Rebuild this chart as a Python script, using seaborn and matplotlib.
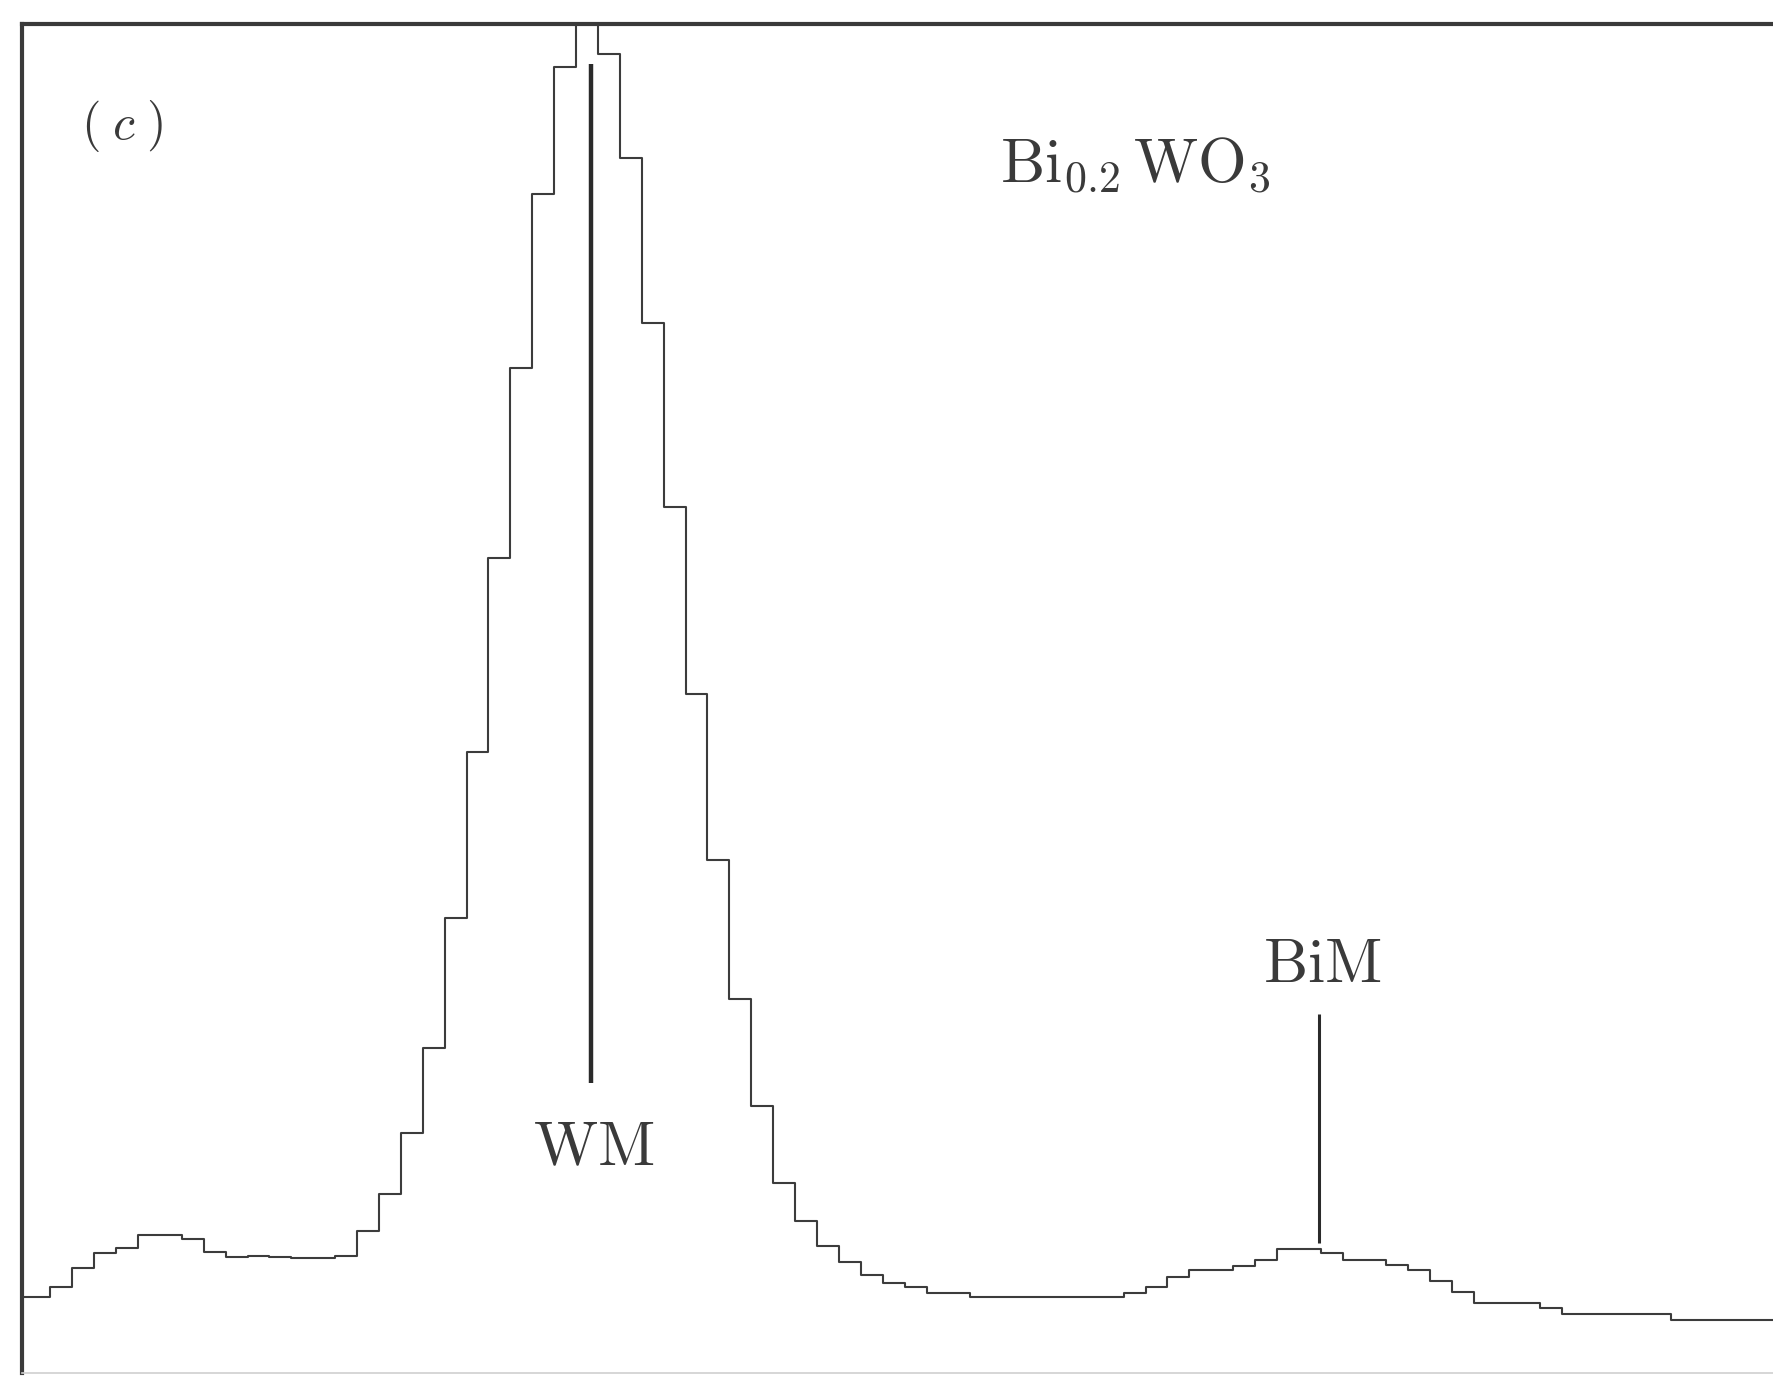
import numpy as np
import pandas as pd
import matplotlib
matplotlib.use("Agg")
import matplotlib.pyplot as plt
import seaborn as sns

# ---- data (arbitrary intensity units, channel index) ----
channels = list(range(81))
counts = [56, 56, 64, 78, 89, 93, 102, 102, 99, 90,
          86, 87, 86, 85, 85, 87, 105, 133, 178, 241,
          337, 460, 604, 745, 874, 968, 1040, 978, 901, 778,
          642, 503, 380, 277, 198, 141, 113, 94, 82, 73,
          67, 64, 59, 59, 56, 56, 56, 56, 56, 56,
          56, 59, 64, 71, 76, 76, 79, 84, 92, 92,
          89, 84, 84, 80, 76, 68, 60, 52, 52, 52,
          48, 44, 44, 44, 44, 44, 39, 39, 39, 39, 39]

peak_labels = ["WM", "BiM"]
peak_pos = [26.7, 59.9]
peak_line_lo = [215, 96]
peak_line_hi = [970, 266]
peak_label_y = [154, 290]
peak_label_x = [26.8, 60.05]

title_text = r"$\mathrm{Bi}_{0.2}\,\mathrm{WO}_{3}$"
panel_text = r"$(\;c\;)$"

sns.set_theme(style="white")
plt.rcParams["mathtext.fontset"] = "cm"
plt.rcParams["font.family"] = ["DejaVu Serif"]

W, H, DPI = 1773, 1378, 100
fig = plt.figure(figsize=(W / DPI, H / DPI), dpi=DPI)
fig.patch.set_facecolor("white")
ax = fig.add_axes([22 / W, 5 / H, (W - 22) / W + 0.01, 1349 / H])

df = pd.DataFrame({"channel": [c + 0.5 for c in channels], "counts": counts})
sns.histplot(data=df, x="channel", weights="counts", bins=len(channels),
             binrange=(0, len(channels)),
             element="step", fill=False, color="#3c3c3c", linewidth=1.5, ax=ax)

ink = "#2a2a2a"
for lab, xp, lo, hi, ly, lx, lw in zip(peak_labels, peak_pos, peak_line_lo,
                                         peak_line_hi, peak_label_y, peak_label_x,
                                         [3.2, 2.2]):
    ax.vlines(xp, lo, hi, color=ink, linewidth=lw)
    ax.text(lx, ly, r"$\mathrm{%s}$" % lab, ha="center", va="baseline",
            fontsize=45, color="#3a3a3a")

ax.text(45.36, 883, title_text, ha="left", va="baseline", fontsize=45, color="#3a3a3a")
ax.text(3.4, 915, panel_text, ha="left", va="baseline", fontsize=36, color="#3a3a3a")

ax.set_xlim((22 - 6.6) / 21.9, (W - 6.6) / 21.9 + 0.8)
ax.set_ylim(0, 1000)
ax.set_xticks([])
ax.set_yticks([])
ax.set_xlabel("")
ax.set_ylabel("")

for side in ["left", "top"]:
    ax.spines[side].set_visible(True)
    ax.spines[side].set_color("#3a3a3a")
    ax.spines[side].set_linewidth(3.0)
ax.spines["bottom"].set_color("#cfcfcf")
ax.spines["bottom"].set_linewidth(1.2)
ax.spines["right"].set_visible(False)

fig.savefig("out.png", dpi=DPI, facecolor="white")
